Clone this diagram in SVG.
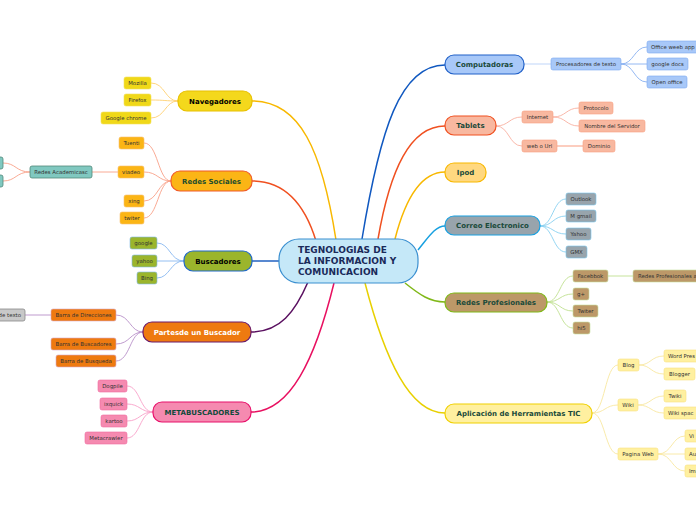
<svg xmlns="http://www.w3.org/2000/svg" width="696" height="520" viewBox="0 0 696 520">
<style>
text{font-family:"DejaVu Sans",Verdana,sans-serif}
.m{font-size:7px;font-weight:bold;text-anchor:middle}
.s{font-size:5.4px;text-anchor:middle;fill:#333}
.c{fill:none;stroke-width:1.5}
.cc{fill:none;stroke-width:0.9}
.g{fill:#1a4a3a}
</style>
<rect width="696" height="520" fill="#fff"/>
<g id="connectors">
<path class="c" stroke="#f8b800" d="M336,240 C322,150 300,101 252,101"/>
<path class="c" stroke="#f05020" d="M316,241 C305,205 285,181 252,181"/>
<path class="c" stroke="#2060c0" d="M279,261 L252,261"/>
<path class="c" stroke="#5a1060" d="M308,282 C295,312 280,332 251,332"/>
<path class="c" stroke="#e81060" d="M334,283 C315,360 290,412 251,412"/>
<path class="c" stroke="#1058c0" d="M362,239 C380,130 400,65 445,65"/>
<path class="c" stroke="#f05020" d="M378,239 C390,170 410,126 445,126"/>
<path class="c" stroke="#f8b800" d="M395,239 C405,200 420,172 445,172"/>
<path class="c" stroke="#18a0e0" d="M418,250 C428,238 435,226 445,226"/>
<path class="c" stroke="#80b818" d="M405,283 C420,295 430,302 445,302"/>
<path class="c" stroke="#e8d000" d="M365,283 C385,360 410,413 445,413"/>
<g stroke="#ffd070">
<path class="cc" d="M151,83 C165,83 165,101 178,101"/>
<path class="cc" d="M151,100 C165,100 165,101 178,101"/>
<path class="cc" d="M151,118 C165,118 165,101 178,101"/>
</g>
<g stroke="#f8a088">
<path class="cc" d="M144,143 C158,143 158,181 171,181"/>
<path class="cc" d="M144,172 C158,172 158,181 171,181"/>
<path class="cc" d="M144,201 C158,201 158,181 171,181"/>
<path class="cc" d="M144,218 C158,218 158,181 171,181"/>
<path class="cc" d="M92,172 L118,172"/>
<path class="cc" d="M30,172 C16,172 16,163 3,163"/>
<path class="cc" d="M30,172 C16,172 16,181 3,181"/>
</g>
<g stroke="#88b8f0">
<path class="cc" d="M157,243 C170,243 170,261 184,261"/>
<path class="cc" d="M157,261 L184,261"/>
<path class="cc" d="M157,278 C170,278 170,261 184,261"/>
</g>
<g stroke="#b890c8">
<path class="cc" d="M116,315 C130,315 130,332 143,332"/>
<path class="cc" d="M116,344 C130,344 130,332 143,332"/>
<path class="cc" d="M116,361 C130,361 130,332 143,332"/>
<path class="cc" d="M25,315 L51,315"/>
</g>
<g stroke="#f8a0c8">
<path class="cc" d="M127,386 C140,386 140,412 153,412"/>
<path class="cc" d="M127,404 C140,404 140,412 153,412"/>
<path class="cc" d="M127,421 C140,421 140,412 153,412"/>
<path class="cc" d="M127,438 C140,438 140,412 153,412"/>
</g>
<g stroke="#88b0f0">
<path class="cc" stroke="#b8d0f8" stroke-width="1.2" d="M524,64 L551,64"/>
<path class="cc" d="M621,64 C634,64 634,47 647,47"/>
<path class="cc" d="M621,64 L647,64"/>
<path class="cc" d="M621,64 C634,64 634,82 647,82"/>
</g>
<g stroke="#f8b0a0">
<path class="cc" d="M496,126 C509,126 509,117 522,117"/>
<path class="cc" d="M496,126 C509,126 509,146 522,146"/>
<path class="cc" d="M553,117 C566,117 566,108 579,108"/>
<path class="cc" d="M553,117 C566,117 566,126 579,126"/>
<path class="cc" stroke="#f89070" d="M557,146 L583,146"/>
</g>
<g stroke="#88d0f0">
<path class="cc" d="M540,226 C553,226 553,199 566,199"/>
<path class="cc" d="M540,226 C553,226 553,216 566,216"/>
<path class="cc" d="M540,226 C553,226 553,234 566,234"/>
<path class="cc" d="M540,226 C553,226 553,252 566,252"/>
</g>
<g stroke="#c0e090">
<path class="cc" d="M547,302 C560,302 560,276 573,276"/>
<path class="cc" d="M547,302 C560,302 560,294 573,294"/>
<path class="cc" d="M547,302 C560,302 560,311 573,311"/>
<path class="cc" d="M547,302 C560,302 560,328 573,328"/>
<path class="cc" stroke-width="1.2" d="M608,276 L633,276"/>
</g>
<g stroke="#f8e8a0">
<path class="cc" d="M592,413 C605,413 605,365 618,365"/>
<path class="cc" d="M592,413 C605,413 605,405 618,405"/>
<path class="cc" d="M592,413 C605,413 605,454 618,454"/>
<path class="cc" d="M639,365 C651,365 651,356 664,356"/>
<path class="cc" d="M639,365 C651,365 651,374 664,374"/>
<path class="cc" d="M638,405 C651,405 651,396 664,396"/>
<path class="cc" d="M638,405 C651,405 651,413 664,413"/>
<path class="cc" d="M658,454 C672,454 672,436 685,436"/>
<path class="cc" d="M658,454 L685,454"/>
<path class="cc" d="M658,454 C672,454 672,471 685,471"/>
</g>
</g>
<g id="center">
<rect x="279" y="239" width="139" height="44" rx="20" fill="#c5e8f8" stroke="#3a8fd0" stroke-width="1.2"/>
<text x="298" y="253" font-size="9" font-weight="bold" fill="#1a2a5a">TEGNOLOGIAS DE</text>
<text x="298" y="264" font-size="9" font-weight="bold" fill="#1a2a5a">LA INFORMACION Y</text>
<text x="298" y="275" font-size="9" font-weight="bold" fill="#1a2a5a">COMUNICACION</text>
</g>
<g id="navegadores">
<rect x="178" y="91" width="74" height="20" rx="9" fill="#f4d81c" stroke="#e8c000" stroke-width="1.2"/>
<text class="m" x="215" y="103.5">Navegadores</text>
<rect x="124" y="77" width="27" height="12" rx="2" fill="#f0d818" stroke="#f4e060" stroke-width="0.6"/>
<text class="s" x="137.5" y="85">Mozilla</text>
<rect x="124" y="94" width="27" height="12" rx="2" fill="#f0d818" stroke="#f4e060" stroke-width="0.6"/>
<text class="s" x="137.5" y="102">Firefox</text>
<rect x="101" y="112" width="50" height="12" rx="2" fill="#f0d818" stroke="#f4e060" stroke-width="0.6"/>
<text class="s" x="126" y="120">Google chrome</text>
</g>
<g id="redes-sociales">
<rect x="171" y="171" width="81" height="20" rx="9" fill="#fbb515" stroke="#f05a28" stroke-width="1.2"/>
<text class="m" x="211.5" y="183.5" fill="#1d4d2d">Redes Sociales</text>
<rect x="119" y="137" width="25" height="12" rx="2" fill="#fbb515" stroke="#f8c070" stroke-width="0.6"/>
<text class="s" x="131.5" y="145">Tuenti</text>
<rect x="118" y="166" width="26" height="12" rx="2" fill="#fbb515" stroke="#f8c070" stroke-width="0.6"/>
<text class="s" x="131" y="174">viadeo</text>
<rect x="124" y="195" width="20" height="12" rx="2" fill="#fbb515" stroke="#f8c070" stroke-width="0.6"/>
<text class="s" x="134" y="203">xing</text>
<rect x="120" y="212" width="24" height="12" rx="2" fill="#fbb515" stroke="#f8c070" stroke-width="0.6"/>
<text class="s" x="132" y="220">twiter</text>
<rect x="30" y="166" width="62" height="12" rx="2" fill="#80c8c0" stroke="#508878" stroke-width="0.8"/>
<text class="s" x="61" y="174">Redes Academicasc</text>
<rect x="-30" y="157" width="33" height="12" rx="2" fill="#80c8c0" stroke="#508878" stroke-width="0.8"/>
<rect x="-30" y="175" width="33" height="12" rx="2" fill="#80c8c0" stroke="#508878" stroke-width="0.8"/>
</g>
<g id="buscadores">
<rect x="184" y="251" width="68" height="20" rx="9" fill="#9bb52c" stroke="#2068c8" stroke-width="1.2"/>
<text class="m" x="218" y="263.5">Buscadores</text>
<rect x="130" y="237" width="27" height="12" rx="2" fill="#9bb52c" stroke="#80b8e8" stroke-width="0.6"/>
<text class="s" x="143.5" y="245">google</text>
<rect x="132" y="255" width="25" height="12" rx="2" fill="#9bb52c" stroke="#80b8e8" stroke-width="0.6"/>
<text class="s" x="144.5" y="263">yahoo</text>
<rect x="137" y="272" width="20" height="12" rx="2" fill="#9bb52c" stroke="#80b8e8" stroke-width="0.6"/>
<text class="s" x="147" y="280">Bing</text>
</g>
<g id="partes-buscador">
<rect x="143" y="322" width="108" height="20" rx="9" fill="#ee7a10" stroke="#6a1a6a" stroke-width="1.2"/>
<text class="m" x="197" y="334.5" fill="#fff">Partesde un Buscador</text>
<rect x="51" y="309" width="65" height="12" rx="2" fill="#ee7a10" stroke="#d8a8c8" stroke-width="0.6"/>
<text class="s" x="83.5" y="317">Barra de Direcciones</text>
<rect x="51" y="338" width="65" height="12" rx="2" fill="#ee7a10" stroke="#d8a8c8" stroke-width="0.6"/>
<text class="s" x="83.5" y="346">Barra de Buscadores</text>
<rect x="56" y="355" width="60" height="12" rx="2" fill="#ee7a10" stroke="#d8a8c8" stroke-width="0.6"/>
<text class="s" x="86" y="363">Barra de Busqueda</text>
<rect x="-30" y="309" width="55" height="12" rx="2" fill="#c8c8c8" stroke="#888" stroke-width="0.8"/>
<text class="s" x="21" y="317" style="text-anchor:end">de texto</text>
</g>
<g id="metabuscadores">
<rect x="153" y="402" width="98" height="20" rx="9" fill="#f58ab0" stroke="#e8106a" stroke-width="1.2"/>
<text class="m" x="202" y="414.5" fill="#0f4a3a">METABUSCADORES</text>
<rect x="98" y="380" width="29" height="12" rx="2" fill="#f58ab0" stroke="#f06aa0" stroke-width="0.6"/>
<text class="s" x="112.5" y="388">Dogpile</text>
<rect x="100" y="398" width="27" height="12" rx="2" fill="#f58ab0" stroke="#f06aa0" stroke-width="0.6"/>
<text class="s" x="113.5" y="406">ixquick</text>
<rect x="101" y="415" width="26" height="12" rx="2" fill="#f58ab0" stroke="#f06aa0" stroke-width="0.6"/>
<text class="s" x="114" y="423">kartoo</text>
<rect x="85" y="432" width="42" height="12" rx="2" fill="#f58ab0" stroke="#f06aa0" stroke-width="0.6"/>
<text class="s" x="106" y="440">Metacrawler</text>
</g>
<g id="computadoras">
<rect x="445" y="55" width="79" height="19" rx="9" fill="#a8c8f8" stroke="#2060c8" stroke-width="1.2"/>
<text class="m g" x="484.5" y="67">Computadoras</text>
<rect x="551" y="58" width="70" height="12" rx="2" fill="#a8c8f8" stroke="#7aa8f0" stroke-width="0.6"/>
<text class="s" x="586" y="66">Procesadores de texto</text>
<rect x="647" y="41" width="56" height="12" rx="2" fill="#a8c8f8" stroke="#7aa8f0" stroke-width="0.6"/>
<text class="s" x="651" y="49" style="text-anchor:start">Office weeb app</text>
<rect x="647" y="58" width="41" height="12" rx="2" fill="#a8c8f8" stroke="#7aa8f0" stroke-width="0.6"/>
<text class="s" x="667.5" y="66">google docs</text>
<rect x="647" y="76" width="40" height="12" rx="2" fill="#a8c8f8" stroke="#7aa8f0" stroke-width="0.6"/>
<text class="s" x="667" y="84">Open office</text>
</g>
<g id="tablets">
<rect x="445" y="116" width="51" height="19" rx="9" fill="#f8b8a0" stroke="#f05020" stroke-width="1.2"/>
<text class="m g" x="470.5" y="128">Tablets</text>
<rect x="522" y="111" width="31" height="12" rx="2" fill="#f8b8a0" stroke="#f8a080" stroke-width="0.6"/>
<text class="s" x="537.5" y="119">Internet</text>
<rect x="522" y="140" width="35" height="12" rx="2" fill="#f8b8a0" stroke="#f8a080" stroke-width="0.6"/>
<text class="s" x="539.5" y="148">web o Url</text>
<rect x="579" y="102" width="34" height="12" rx="2" fill="#f8b8a0" stroke="#f8a080" stroke-width="0.6"/>
<text class="s" x="596" y="110">Protocolo</text>
<rect x="579" y="120" width="66" height="12" rx="2" fill="#f8b8a0" stroke="#f8a080" stroke-width="0.6"/>
<text class="s" x="612" y="128">Nombre del Servidor</text>
<rect x="583" y="140" width="32" height="12" rx="2" fill="#f8b8a0" stroke="#f8a080" stroke-width="0.6"/>
<text class="s" x="599" y="148">Dominio</text>
</g>
<g id="ipod">
<rect x="445" y="163" width="41" height="19" rx="9" fill="#ffd880" stroke="#f8b800" stroke-width="1.2"/>
<text class="m g" x="465.5" y="175">Ipod</text>
</g>
<g id="correo">
<rect x="445" y="216" width="95" height="19" rx="9" fill="#98a4ac" stroke="#18a0e0" stroke-width="1.2"/>
<text class="m g" x="492.5" y="228">Correo Electronico</text>
<rect x="566" y="193" width="30" height="12" rx="2" fill="#98a4ac" stroke="#78c8f0" stroke-width="0.6"/>
<text class="s" x="581" y="201">Outlook</text>
<rect x="566" y="210" width="30" height="12" rx="2" fill="#98a4ac" stroke="#78c8f0" stroke-width="0.6"/>
<text class="s" x="581" y="218">M gmail</text>
<rect x="566" y="228" width="25" height="12" rx="2" fill="#98a4ac" stroke="#78c8f0" stroke-width="0.6"/>
<text class="s" x="578.5" y="236">Yahoo</text>
<rect x="566" y="246" width="21" height="12" rx="2" fill="#98a4ac" stroke="#78c8f0" stroke-width="0.6"/>
<text class="s" x="576.5" y="254">GMX</text>
</g>
<g id="redes-profesionales">
<rect x="445" y="293" width="102" height="19" rx="9" fill="#bc9868" stroke="#80b818" stroke-width="1.2"/>
<text class="m g" x="496" y="305">Redes Profesionales</text>
<rect x="573" y="270" width="35" height="12" rx="2" fill="#bc9868" stroke="#c8e0a0" stroke-width="0.6"/>
<text class="s" x="590.5" y="278">Facebbok</text>
<rect x="633" y="270" width="70" height="12" rx="2" fill="#bc9868" stroke="#c8e0a0" stroke-width="0.6"/>
<text class="s" x="638" y="278" style="text-anchor:start">Redes Profesionales a</text>
<rect x="573" y="288" width="16" height="12" rx="2" fill="#bc9868" stroke="#c8e0a0" stroke-width="0.6"/>
<text class="s" x="581" y="296">g+</text>
<rect x="573" y="305" width="25" height="12" rx="2" fill="#bc9868" stroke="#c8e0a0" stroke-width="0.6"/>
<text class="s" x="585.5" y="313">Twiter</text>
<rect x="573" y="322" width="17" height="12" rx="2" fill="#bc9868" stroke="#c8e0a0" stroke-width="0.6"/>
<text class="s" x="581.5" y="330">hi5</text>
</g>
<g id="aplicacion">
<rect x="445" y="404" width="147" height="19" rx="9" fill="#fff0a0" stroke="#f0d000" stroke-width="1.2"/>
<text class="m g" x="518.5" y="416">Aplicación de Herramientas TIC</text>
<rect x="618" y="359" width="21" height="12" rx="2" fill="#fff0a0" stroke="#f8e080" stroke-width="0.6"/>
<text class="s" x="628.5" y="367">Blog</text>
<rect x="618" y="399" width="20" height="12" rx="2" fill="#fff0a0" stroke="#f8e080" stroke-width="0.6"/>
<text class="s" x="628" y="407">Wiki</text>
<rect x="618" y="448" width="40" height="12" rx="2" fill="#fff0a0" stroke="#f8e080" stroke-width="0.6"/>
<text class="s" x="638" y="456">Pagina Web</text>
<rect x="664" y="350" width="40" height="12" rx="2" fill="#fff0a0" stroke="#f8e080" stroke-width="0.6"/>
<text class="s" x="668" y="358" style="text-anchor:start">Word Pres</text>
<rect x="664" y="368" width="31" height="12" rx="2" fill="#fff0a0" stroke="#f8e080" stroke-width="0.6"/>
<text class="s" x="679.5" y="376">Blogger</text>
<rect x="664" y="390" width="22" height="12" rx="2" fill="#fff0a0" stroke="#f8e080" stroke-width="0.6"/>
<text class="s" x="675" y="398">Twiki</text>
<rect x="664" y="407" width="40" height="12" rx="2" fill="#fff0a0" stroke="#f8e080" stroke-width="0.6"/>
<text class="s" x="668" y="415" style="text-anchor:start">Wiki spac</text>
<rect x="685" y="430" width="20" height="12" rx="2" fill="#fff0a0" stroke="#f8e080" stroke-width="0.6"/>
<text class="s" x="689" y="438" style="text-anchor:start">Vi</text>
<rect x="685" y="448" width="20" height="12" rx="2" fill="#fff0a0" stroke="#f8e080" stroke-width="0.6"/>
<text class="s" x="689" y="456" style="text-anchor:start">Au</text>
<rect x="685" y="465" width="20" height="12" rx="2" fill="#fff0a0" stroke="#f8e080" stroke-width="0.6"/>
<text class="s" x="689" y="473" style="text-anchor:start">Im</text>
</g>
</svg>
